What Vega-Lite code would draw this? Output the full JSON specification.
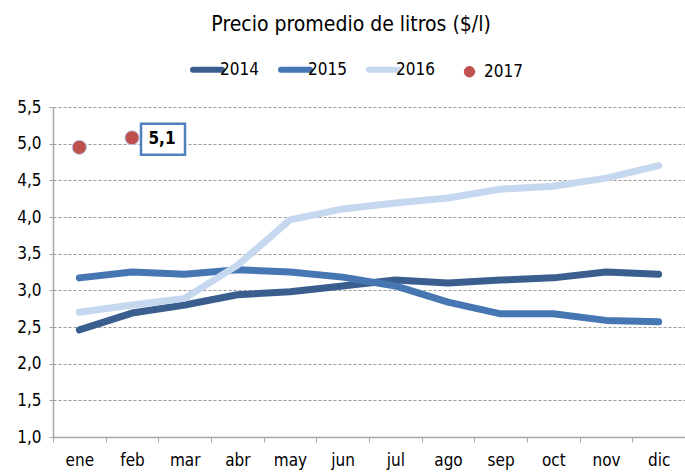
{
  "$schema": "https://vega.github.io/schema/vega-lite/v6.json",
  "width": 632,
  "height": 330,
  "autosize": {"type": "none"},
  "padding": {"left": 53, "top": 107, "right": 0, "bottom": 37},
  "title": {
    "text": "Precio promedio de litros ($/l)",
    "font": "DejaVu Sans Condensed, DejaVu Sans",
    "fontSize": 21,
    "fontWeight": "normal",
    "color": "#000000",
    "anchor": "middle",
    "frame": "bounds",
    "offset": 26
  },
  "config": {
    "view": {"stroke": null},
    "font": "DejaVu Sans Condensed, DejaVu Sans"
  },
  "data": {
    "values": [
      {"mes": "ene", "anio": "2014", "valor": 2.46},
      {"mes": "feb", "anio": "2014", "valor": 2.69},
      {"mes": "mar", "anio": "2014", "valor": 2.80},
      {"mes": "abr", "anio": "2014", "valor": 2.94},
      {"mes": "may", "anio": "2014", "valor": 2.98},
      {"mes": "jun", "anio": "2014", "valor": 3.06},
      {"mes": "jul", "anio": "2014", "valor": 3.14},
      {"mes": "ago", "anio": "2014", "valor": 3.10},
      {"mes": "sep", "anio": "2014", "valor": 3.14},
      {"mes": "oct", "anio": "2014", "valor": 3.17},
      {"mes": "nov", "anio": "2014", "valor": 3.25},
      {"mes": "dic", "anio": "2014", "valor": 3.22},
      {"mes": "ene", "anio": "2015", "valor": 3.17},
      {"mes": "feb", "anio": "2015", "valor": 3.25},
      {"mes": "mar", "anio": "2015", "valor": 3.22},
      {"mes": "abr", "anio": "2015", "valor": 3.28},
      {"mes": "may", "anio": "2015", "valor": 3.25},
      {"mes": "jun", "anio": "2015", "valor": 3.18},
      {"mes": "jul", "anio": "2015", "valor": 3.06},
      {"mes": "ago", "anio": "2015", "valor": 2.84},
      {"mes": "sep", "anio": "2015", "valor": 2.68},
      {"mes": "oct", "anio": "2015", "valor": 2.68},
      {"mes": "nov", "anio": "2015", "valor": 2.59},
      {"mes": "dic", "anio": "2015", "valor": 2.57},
      {"mes": "ene", "anio": "2016", "valor": 2.70},
      {"mes": "feb", "anio": "2016", "valor": 2.80},
      {"mes": "mar", "anio": "2016", "valor": 2.89},
      {"mes": "abr", "anio": "2016", "valor": 3.34},
      {"mes": "may", "anio": "2016", "valor": 3.96},
      {"mes": "jun", "anio": "2016", "valor": 4.11},
      {"mes": "jul", "anio": "2016", "valor": 4.19},
      {"mes": "ago", "anio": "2016", "valor": 4.26},
      {"mes": "sep", "anio": "2016", "valor": 4.38},
      {"mes": "oct", "anio": "2016", "valor": 4.42},
      {"mes": "nov", "anio": "2016", "valor": 4.53},
      {"mes": "dic", "anio": "2016", "valor": 4.70},
      {"mes": "ene", "anio": "2017", "valor": 4.95},
      {"mes": "feb", "anio": "2017", "valor": 5.08, "etiqueta": "5,1"}
    ]
  },
  "encoding": {
    "x": {
      "field": "mes",
      "type": "nominal",
      "sort": ["ene","feb","mar","abr","may","jun","jul","ago","sep","oct","nov","dic"],
      "scale": {"type": "band", "paddingInner": 0, "paddingOuter": 0},
      "axis": {
        "title": null,
        "labelAngle": 0,
        "labelFontSize": 17,
        "labelColor": "#000000",
        "labelPadding": 10,
        "tickBand": "extent",
        "tickSize": 5,
        "tickColor": "#A6A6A6",
        "domainColor": "#A6A6A6",
        "domainWidth": 1.5,
        "grid": false
      }
    },
    "y": {
      "field": "valor",
      "type": "quantitative",
      "scale": {"domain": [1, 5.5], "nice": false, "zero": false},
      "axis": {
        "title": null,
        "values": [1, 1.5, 2, 2.5, 3, 3.5, 4, 4.5, 5, 5.5],
        "labelExpr": "replace(format(datum.value, '.1f'), '.', ',')",
        "labelFontSize": 17,
        "labelColor": "#000000",
        "labelPadding": 8,
        "tickSize": 4,
        "tickColor": "#A6A6A6",
        "domainColor": "#A6A6A6",
        "domainWidth": 1.5,
        "grid": true,
        "gridColor": "#9A9A9A",
        "gridDash": [3, 2],
        "gridWidth": 1
      }
    },
    "color": {
      "field": "anio",
      "type": "nominal",
      "scale": {
        "domain": ["2014", "2015", "2016", "2017"],
        "range": ["#3A5F8F", "#4677B2", "#C6D8F0", "#C0504D"]
      },
      "legend": {
        "title": null,
        "orient": "none",
        "legendX": 146,
        "legendY": -46,
        "direction": "horizontal",
        "labelFontSize": 17,
        "labelColor": "#000000",
        "labelOffset": 4,
        "columnPadding": 10,
        "symbolSize": 841,
        "symbolStrokeWidth": 6,
        "encode": {
          "symbols": {
            "update": {
              "shape": {"signal": "datum.value == '2017' ? 'M 4.05 0 A 1 1 0 1 1 2.05 0 A 1 1 0 1 1 4.05 0 Z' : 'stroke'"},
              "size": {"signal": "datum.value == '2017' ? 110 : 841"},
              "strokeWidth": {"signal": "datum.value == '2017' ? 1 : 6"},
              "fill": {"signal": "datum.value == '2017' ? '#C0504D' : 'transparent'"},
              "stroke": {"signal": "datum.value == '2017' ? '#B9C9E8' : datum.value == '2014' ? '#3A5F8F' : datum.value == '2015' ? '#4677B2' : '#C6D8F0'"},
              "strokeCap": {"value": "round"},
              "opacity": {"value": 1}
            }
          },
          "labels": {
            "update": {
              "dx": {"signal": "datum.value == '2017' ? 18 : 0"}
            }
          }
        }
      }
    }
  },
  "layer": [
    {
      "transform": [{"filter": "datum.anio != '2017'"}],
      "mark": {"type": "line", "strokeWidth": 7, "strokeCap": "round", "strokeJoin": "round"}
    },
    {
      "transform": [{"filter": "datum.anio == '2017'"}],
      "mark": {"type": "point", "filled": true, "size": 200, "opacity": 1, "stroke": "#B9C9E8", "strokeWidth": 1}
    },
    {
      "transform": [{"filter": "isValid(datum.etiqueta)"}],
      "mark": {
        "type": "point",
        "shape": "M 0.9 -1.4 H 5.3 V 1.7 H 0.9 Z",
        "size": 400,
        "filled": false,
        "fill": "#FFFFFF",
        "fillOpacity": 1,
        "stroke": "#4F81BD",
        "strokeWidth": 2.5,
        "opacity": 1
      },
      "encoding": {"color": {"value": "#4F81BD"}}
    },
    {
      "transform": [{"filter": "isValid(datum.etiqueta)"}],
      "mark": {"type": "text", "dx": 30, "dy": 1, "fontSize": 17, "fontWeight": "bold", "color": "#000000"},
      "encoding": {"text": {"field": "etiqueta"}, "color": {"value": "#000000"}}
    }
  ]
}
